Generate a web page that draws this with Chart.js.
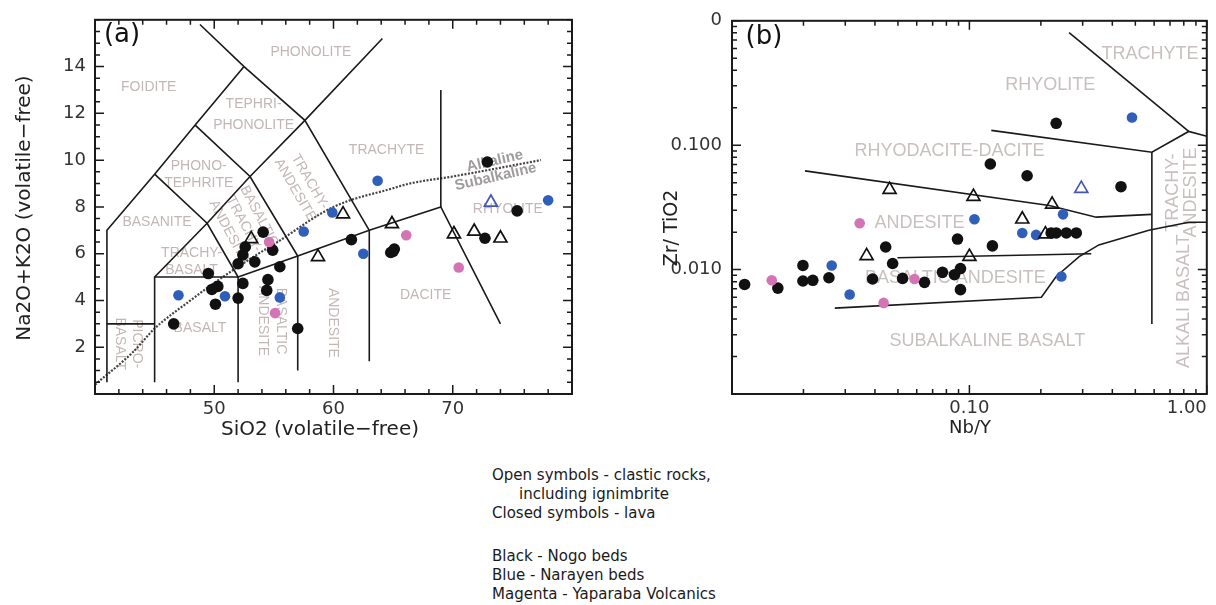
<!DOCTYPE html>
<html>
<head>
<meta charset="utf-8">
<script src="https://cdn.jsdelivr.net/npm/chart.js@4.4.0/dist/chart.umd.min.js"></script>
<style>
  body { margin: 0; background: #fff; width: 1216px; height: 605px; position: relative; overflow: hidden; }
  canvas { position: absolute; top: 0; }
  #tas { left: 0; }
  #zr { left: 600px; }
  .note { position: absolute; left: 492px; font: 15px "DejaVu Sans", sans-serif; color: #1a1a1a; line-height: 19px; }
</style>
</head>
<body>
<canvas id="tas" width="600" height="450"></canvas>
<canvas id="zr" width="616" height="450"></canvas>
<div class="note" style="top:466px">Open symbols - clastic rocks,<br><span style="padding-left:27px">including ignimbrite</span><br>Closed symbols - lava</div>
<div class="note" style="top:547px">Black - Nogo beds<br>Blue - Narayen beds<br>Magenta - Yaparaba Volcanics</div>
<script>
"use strict";

// (a) SiO2 vs Na2O+K2O, [SiO2, Na2O+K2O]
const tasBlack = [[46.6, 3.0], [49.5, 5.15], [49.8, 4.47], [50.3, 4.6], [50.1, 3.84], [52.0, 4.1],
  [52.0, 5.57], [52.4, 4.73], [52.4, 5.95], [52.6, 6.29], [53.4, 5.65], [54.1, 6.92], [54.9, 6.15],
  [55.5, 5.44], [54.5, 4.89], [54.4, 4.43], [57.0, 2.8], [61.5, 6.6], [64.8, 6.05], [65.1, 6.2],
  [65.0, 6.1], [72.7, 6.66], [75.4, 7.83], [72.9, 9.92]];
const tasBlue = [[47.0, 4.22], [50.9, 4.18], [55.5, 4.13], [57.5, 6.95], [59.9, 7.76], [62.5, 6.0],
  [63.7, 9.12], [78.0, 8.28]];
const tasMagenta = [[54.6, 6.5], [55.1, 3.46], [66.1, 6.79], [70.5, 5.41]];
const tasOpenBlack = [[53.1, 6.63], [58.7, 5.86], [60.8, 7.69], [64.9, 7.27], [70.1, 6.84], [71.8, 6.95], [74.0, 6.66]];
const tasOpenBlue = [[73.2, 8.19]];

// (b) Nb/Y vs Zr/TiO2, [Nb/Y, Zr/TiO2]
const zrBlack = [[0.0113, 0.0076], [0.0156, 0.0071], [0.0199, 0.0108], [0.0199, 0.0081], [0.0219, 0.0082],
  [0.0256, 0.0086], [0.0391, 0.0084], [0.0444, 0.0152], [0.0475, 0.0112], [0.0523, 0.0085], [0.0647, 0.0079],
  [0.077, 0.0095], [0.0865, 0.0091], [0.0917, 0.0102], [0.0917, 0.0069], [0.0891, 0.0176], [0.125, 0.0155],
  [0.1225, 0.0706], [0.175, 0.0568], [0.232, 0.150], [0.435, 0.0464], [0.221, 0.0197], [0.232, 0.0197],
  [0.256, 0.0197], [0.282, 0.0197]];
const zrBlue = [[0.0263, 0.0108], [0.0313, 0.0063], [0.105, 0.0254], [0.167, 0.0197], [0.191, 0.019],
  [0.248, 0.0278], [0.244, 0.0088], [0.484, 0.167]];
const zrMagenta = [[0.0147, 0.0082], [0.0345, 0.0236], [0.0435, 0.0054], [0.0587, 0.0084]];
const zrOpenBlack = [[0.0369, 0.0129], [0.0461, 0.0439], [0.104, 0.0386], [0.1, 0.0127], [0.167, 0.0254],
  [0.223, 0.0334], [0.209, 0.0193]];
const zrOpenBlue = [[0.296, 0.0448]];

// field boundaries
const tasFields = [
  [[41, 0.5], [41, 7], [45, 9.4], [48.4, 11.5], [52.5, 14]],
  [[48.8, 15.8], [52.5, 14], [57.6, 11.7], [63, 7]],
  [[41, 3], [45, 3]],
  [[45, 0.5], [45, 5], [52, 5]],
  [[45, 5], [49.4, 7.3], [53, 9.3], [57.6, 11.7], [64.1, 15.2]],
  [[45, 9.4], [49.4, 7.3], [52, 5], [52, 0.5]],
  [[48.4, 11.5], [53, 9.3], [57, 5.9], [57, 1]],
  [[52, 5], [57, 5.9], [63, 7], [69, 8], [74, 3]],
  [[63, 7], [63, 1.4]],
  [[69, 8], [69, 13]]
];
const alkalineCurve = [[40, 0.4], [43.2, 1.8], [45, 2.8], [48, 4.0], [50, 4.75], [53.7, 6.0], [55, 6.4],
  [60, 8.0], [65, 8.8], [66.4, 9.0], [70, 9.3], [77.4, 10.0]];
const zrFields = [
  [[0.0203, 0.0622], [0.217, 0.0328], [0.342, 0.0264], [0.587, 0.0278]],
  [[0.1237, 0.1315], [0.587, 0.0879], [0.839, 0.129], [1.0, 0.118]],
  [[0.263, 0.804], [0.839, 0.129]],
  [[0.587, 0.0879], [0.587, 0.00366]],
  [[0.0498, 0.01245], [0.326, 0.0134]],
  [[0.0271, 0.0049], [0.201, 0.006], [0.232, 0.0088], [0.29, 0.0127], [0.351, 0.0158], [0.57, 0.0207],
    [0.839, 0.024], [1.0, 0.024]]
];

// tick labels
const tasXLabels = [50, 60, 70];
const tasYLabels = [2, 4, 6, 8, 10, 12, 14];
const zrXTicks = [0.1, 1];
const zrXText = ["0.10", "1.00"];
const zrYTicks = [0.01, 0.1, 1];
const zrYText = ["0.010", "0.100", "0"];

const BLACK = "#111";
const BLUE = "#2f5fb9";
const MAGENTA = "#d474b6";
const OPEN_BLUE = "#4558b3";

function pts(arr) {
  return arr.map(p => ({ x: p[0], y: p[1] }));
}
function dots(arr, color, r) {
  return { data: pts(arr), backgroundColor: color, borderWidth: 0, pointRadius: r, pointStyle: "circle", order: 1 };
}
function opens(arr, color) {
  return { data: pts(arr), backgroundColor: "rgba(0,0,0,0)", borderColor: color, borderWidth: 1.7,
    pointRadius: 7.5, pointStyle: "triangle", order: 1 };
}
function boundary(arr) {
  return { data: pts(arr), showLine: true, borderColor: "#1a1a1a", borderWidth: 1.6, pointRadius: 0,
    tension: 0, fill: false, order: 2 };
}
function near(list, v) {
  return list.findIndex(t => Math.abs(t - v) < 1e-9 * Math.max(1, Math.abs(t)));
}

// inward ticks on all four sides plus the box
const frameTicks = {
  id: "frameTicks",
  afterDatasetsDraw(chart, args, o) {
    const { ctx, chartArea: a } = chart;
    const sx = chart.scales.x, sy = chart.scales.y;
    ctx.save();
    ctx.strokeStyle = "#1a1a1a";
    ctx.lineWidth = 1.5;
    ctx.beginPath();
    o.xTicks.forEach(t => {
      const px = sx.getPixelForValue(t);
      const len = near(o.xMajor, t) >= 0 ? 9 : 5;
      ctx.moveTo(px, a.bottom); ctx.lineTo(px, a.bottom - len);
      ctx.moveTo(px, a.top); ctx.lineTo(px, a.top + len);
    });
    o.yTicks.forEach(t => {
      const py = sy.getPixelForValue(t);
      const len = near(o.yMajor, t) >= 0 ? 9 : 5;
      ctx.moveTo(a.left, py); ctx.lineTo(a.left + len, py);
      ctx.moveTo(a.right, py); ctx.lineTo(a.right - len, py);
    });
    ctx.stroke();
    ctx.lineWidth = 2;
    ctx.strokeRect(a.left, a.top, a.right - a.left, a.bottom - a.top);
    ctx.restore();
  }
};

// field names placed in data units
const fieldLabels = {
  id: "fieldLabels",
  beforeDatasetsDraw(chart, args, o) {
    const ctx = chart.ctx;
    const sx = chart.scales.x, sy = chart.scales.y;
    ctx.save();
    ctx.textAlign = "center";
    ctx.textBaseline = "middle";
    o.items.forEach(it => {
      const lines = [].concat(it.text);
      const lh = it.lh || o.lh;
      ctx.save();
      ctx.translate(sx.getPixelForValue(it.x), sy.getPixelForValue(it.y));
      ctx.rotate((it.rot || 0) * Math.PI / 180);
      ctx.font = it.font || o.font;
      ctx.fillStyle = it.color || o.color;
      lines.forEach((s, i) => ctx.fillText(s, 0, (i - (lines.length - 1) / 2) * lh));
      ctx.restore();
    });
    ctx.restore();
  }
};

// axis titles and panel letters
const captions = {
  id: "captions",
  afterDraw(chart, args, o) {
    const ctx = chart.ctx;
    ctx.save();
    ctx.textAlign = "center";
    ctx.textBaseline = "middle";
    o.items.forEach(it => {
      ctx.save();
      ctx.translate(it.x, it.y);
      ctx.rotate((it.rot || 0) * Math.PI / 180);
      ctx.font = it.font;
      ctx.fillStyle = it.color || "#222";
      ctx.fillText(it.text, 0, 0);
      ctx.restore();
    });
    ctx.restore();
  }
};

const tasXTicks = [];
for (let v = 40; v <= 80; v += 2) tasXTicks.push(v);
const tasYTicks = [];
for (let v = 0; v <= 16; v += 0.5) tasYTicks.push(v);

const logX = [], logY = [];
for (let e = -2; e < 0; e++) for (let m = 1; m < 10; m++) logX.push(m * Math.pow(10, e));
logX.push(1);
for (let e = -3; e < 0; e++) for (let m = 1; m < 10; m++) logY.push(m * Math.pow(10, e));
logY.push(1);

const tickFont = { family: "DejaVu Sans", size: 18 };
const titleFont = '20px "DejaVu Sans"';

new Chart(document.getElementById("tas"), {
  type: "scatter",
  data: {
    datasets: [
      opens(tasOpenBlue, OPEN_BLUE),
      opens(tasOpenBlack, BLACK),
      dots(tasMagenta, MAGENTA, 5.3),
      dots(tasBlue, BLUE, 5.3),
      dots(tasBlack, BLACK, 5.8),
      ...tasFields.map(boundary),
      { data: pts(alkalineCurve), showLine: true, borderColor: "#444", borderWidth: 2.2, borderDash: [2, 1.5],
        pointRadius: 0, cubicInterpolationMode: "monotone", fill: false, order: 2 }
    ]
  },
  options: {
    responsive: false,
    animation: false,
    devicePixelRatio: 1,
    layout: { padding: { top: 13, right: 28, left: 0, bottom: 0 } },
    plugins: {
      legend: { display: false },
      tooltip: { enabled: false },
      frameTicks: { xTicks: tasXTicks, xMajor: [50, 60, 70], yTicks: tasYTicks, yMajor: tasYLabels },
      fieldLabels: {
        font: '14px "Liberation Sans"',
        color: "#c2b7b5",
        lh: 17,
        items: [
          { text: "FOIDITE", x: 44.5, y: 13.1 },
          { text: "PHONOLITE", x: 58.1, y: 14.6 },
          { text: ["TEPHRI-", "PHONOLITE"], x: 53.3, y: 11.95, lh: 21 },
          { text: ["PHONO-", "TEPHRITE"], x: 48.7, y: 9.4 },
          { text: "BASANITE", x: 45.2, y: 7.34 },
          { text: ["TRACHY-", "BASALT"], x: 48.1, y: 5.65 },
          { text: "BASALT", x: 48.8, y: 2.83 },
          { text: ["PICRO-", "BASALT"], x: 42.8, y: 2.15, rot: 90 },
          { text: ["BASALTIC", "ANDESITE"], x: 54.87, y: 3.12, rot: 90, lh: 18 },
          { text: "ANDESITE", x: 59.92, y: 3.04, rot: 90 },
          { text: ["TRACHY-", "ANDESITE"], x: 57.4, y: 8.9, rot: 60 },
          { text: ["BASALTIC", "TRACHY-", "ANDESITE"], x: 52.5, y: 7.26, rot: 62 },
          { text: "TRACHYTE", x: 64.45, y: 10.42 },
          { text: "DACITE", x: 67.73, y: 4.22 },
          { text: "RHYOLITE", x: 74.62, y: 7.89 },
          { text: "Alkaline", x: 73.53, y: 9.96, rot: -13, font: 'bold 15px "Liberation Sans"', color: "#a09c9c" },
          { text: "Subalkaline", x: 73.6, y: 9.28, rot: -13, font: 'bold 15px "Liberation Sans"', color: "#a09c9c" }
        ]
      },
      captions: {
        items: [
          { text: "Na2O+K2O (volatile\u2212free)", x: 25, y: 208, rot: -90, font: titleFont },
          { text: "SiO2 (volatile\u2212free)", x: 320, y: 430, font: titleFont },
          { text: "(a)", x: 122, y: 35, font: '26px "DejaVu Sans"', color: "#111" }
        ]
      }
    },
    scales: {
      x: {
        type: "linear", min: 40, max: 80,
        grid: { display: false, drawTicks: false }, border: { display: false },
        afterFit: s => { s.height = 56; },
        ticks: { stepSize: 10, autoSkip: false, maxRotation: 0, minRotation: 0, padding: 5, color: "#333", font: tickFont,
          callback: v => (tasXLabels.includes(v) ? String(v) : "") }
      },
      y: {
        type: "linear", min: 0, max: 16,
        grid: { display: false, drawTicks: false }, border: { display: false },
        afterFit: s => { s.width = 95; },
        ticks: { stepSize: 2, autoSkip: false, padding: 9, color: "#333", font: tickFont,
          callback: v => (tasYLabels.includes(v) ? String(v) : "") }
      }
    }
  },
  plugins: [frameTicks, fieldLabels, captions]
});

new Chart(document.getElementById("zr"), {
  type: "scatter",
  data: {
    datasets: [
      opens(zrOpenBlue, OPEN_BLUE),
      opens(zrOpenBlack, BLACK),
      dots(zrMagenta, MAGENTA, 5.3),
      dots(zrBlue, BLUE, 5.3),
      dots(zrBlack, BLACK, 5.8),
      ...zrFields.map(boundary)
    ]
  },
  options: {
    responsive: false,
    animation: false,
    devicePixelRatio: 1,
    layout: { padding: { top: 13, right: 8, left: 0, bottom: 0 } },
    plugins: {
      legend: { display: false },
      tooltip: { enabled: false },
      frameTicks: { xTicks: logX, xMajor: [0.01, 0.1, 1], yTicks: logY, yMajor: [0.001, 0.01, 0.1, 1] },
      fieldLabels: {
        font: '18px "Liberation Sans"',
        color: "#c8c0bf",
        lh: 18,
        items: [
          { text: "TRACHYTE", x: 0.576, y: 0.537 },
          { text: "RHYOLITE", x: 0.219, y: 0.305 },
          { text: "RHYODACITE-DACITE", x: 0.0824, y: 0.0895 },
          { text: "ANDESITE", x: 0.0616, y: 0.0236 },
          { text: "BASALTIC ANDESITE", x: 0.0873, y: 0.0085 },
          { text: "SUBALKALINE BASALT", x: 0.119, y: 0.00268 },
          { text: "ALKALI BASALT", x: 0.8, y: 0.00557, rot: -90 },
          { text: ["TRACHY-", "ANDESITE"], x: 0.785, y: 0.0416, rot: -90 }
        ]
      },
      captions: {
        items: [
          { text: "Zr/ TiO2", x: 72, y: 228, rot: -90, font: '19px "DejaVu Sans"' },
          { text: "Nb/Y", x: 370, y: 428, font: '18px "DejaVu Sans"' },
          { text: "(b)", x: 164, y: 37, font: '26px "DejaVu Sans"', color: "#111" }
        ]
      }
    },
    scales: {
      x: {
        type: "logarithmic", min: 0.01, max: 1,
        grid: { display: false, drawTicks: false }, border: { display: false },
        afterFit: s => { s.height = 56; },
        ticks: { autoSkip: false, maxRotation: 0, minRotation: 0, align: "inner", padding: 4, color: "#333", font: tickFont,
          callback: v => { const i = near(zrXTicks, v); return i >= 0 ? zrXText[i] : ""; } }
      },
      y: {
        type: "logarithmic", min: 0.001, max: 1,
        grid: { display: false, drawTicks: false }, border: { display: false },
        afterFit: s => { s.width = 132; },
        ticks: { autoSkip: false, padding: 10, color: "#333", font: tickFont,
          callback: v => { const i = near(zrYTicks, v); return i >= 0 ? zrYText[i] : ""; } }
      }
    }
  },
  plugins: [frameTicks, fieldLabels, captions]
});
</script>
</body>
</html>
